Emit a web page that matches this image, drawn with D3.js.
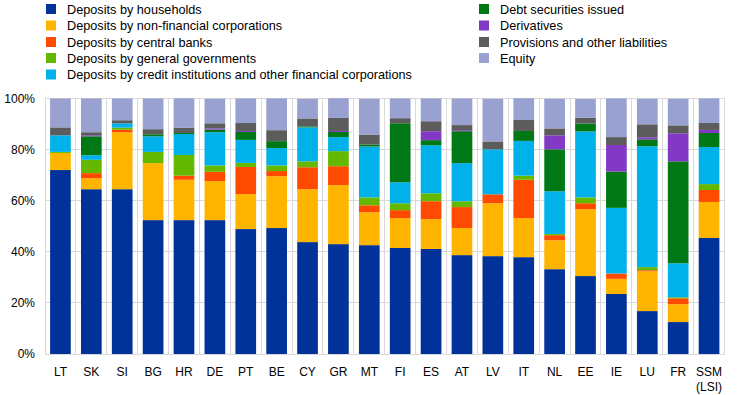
<!DOCTYPE html>
<html><head><meta charset="utf-8">
<script src="https://cdn.jsdelivr.net/npm/d3@7"></script>
<style>body{margin:0;background:#fff;}svg text{font-family:"Liberation Sans",Arial,sans-serif;}</style>
</head><body>
<svg id="c" width="744" height="395"></svg>
<script>
const categories = ["LT","SK","SI","BG","HR","DE","PT","BE","CY","GR","MT","FI","ES","AT","LV","IT","NL","EE","IE","LU","FR","SSM\n(LSI)"];
const seriesNames = ["Deposits by households","Deposits by non-financial corporations","Deposits by central banks","Deposits by general governments","Deposits by credit institutions and other financial corporations","Debt securities issued","Derivatives","Provisions and other liabilities","Equity"];
const colors = ["#003299","#FFB400","#FF4B00","#65B800","#00B1EA","#007816","#8139C6","#5C5C5C","#98A1D0"];
const households = [72.0,64.5,64.5,52.4,52.4,52.4,48.9,49.3,43.8,43.0,42.6,41.5,41.1,38.7,38.3,37.9,33.2,30.5,23.5,16.8,12.5,45.4];
const nonFinCorp = [6.7,4.3,22.3,22.3,15.8,15.3,13.7,20.3,20.7,23.1,12.9,11.7,11.7,10.6,20.7,15.3,11.3,26.2,5.9,15.6,7.0,14.1];
const centralBanks = [0,2.0,1.0,0,1.6,3.6,10.6,2.0,8.6,7.4,2.7,3.1,7.0,8.2,3.5,15.0,2.0,2.3,2.1,0.4,2.3,4.7];
const generalGov = [0.4,5.2,0.8,4.4,8.1,2.5,1.6,2.2,2.3,5.9,3.1,2.7,3.1,2.3,0,1.6,0.5,2.3,0,1.2,0.4,2.3];
const creditInst = [6.5,1.8,1.7,6.1,8.2,13.0,9.0,6.8,13.3,5.5,19.9,8.2,18.8,14.9,17.6,13.6,16.7,25.8,25.7,47.3,13.3,14.5];
const debtSec = [0,7.4,0,0.8,0.4,1.0,3.1,2.7,0.4,2.0,0.8,23.1,2.0,12.5,0,3.9,16.4,3.1,14.2,2.7,39.9,5.5];
const derivatives = [0,0.4,0,0,0,0.5,0.4,0,0,0.4,0,0,3.5,0.4,0,0,5.5,0,10.4,0.8,11.0,1.2];
const provisions = [3.1,1.2,1.2,2.0,2.0,2.0,3.1,4.3,3.1,5.1,3.9,2.0,3.9,2.0,3.1,4.3,2.7,2.3,3.1,5.1,3.1,2.7];
const equity = [11.3,13.2,8.5,12.0,11.6,9.6,9.6,12.4,7.7,7.7,14.0,7.7,8.9,10.4,16.7,8.5,11.6,7.3,15.1,10.0,10.4,9.6];
const yTicks = [0,20,40,60,80,100];

const seriesValues = [households,nonFinCorp,centralBanks,generalGov,creditInst,debtSec,derivatives,provisions,equity];
const keys = seriesNames;
const table = categories.map((c,i)=>{const o={cat:c};keys.forEach((k,j)=>o[k]=seriesValues[j][i]);return o;});
const stacked = d3.stack().keys(keys)(table);

const svg = d3.select("#c");
const pL=45,pR=724.5,pT=98.5,pB=354;
const x = d3.scaleBand().domain(categories).range([pL,pR]).paddingInner(0.33).paddingOuter(0.165);
const xg = d3.scaleBand().domain(categories).range([pL,pR]).padding(0);
const y = d3.scaleLinear().domain([0,100]).range([pB,pT]);

const grid = svg.append("g").attr("stroke","#d9d9d9").attr("stroke-width",1).attr("shape-rendering","crispEdges");
yTicks.forEach(t=>grid.append("line").attr("x1",pL).attr("x2",pR).attr("y1",y(t)).attr("y2",y(t)));
categories.forEach(c=>grid.append("line").attr("x1",xg(c)).attr("x2",xg(c)).attr("y1",pT).attr("y2",pB));
grid.append("line").attr("x1",pR).attr("x2",pR).attr("y1",pT).attr("y2",pB);

svg.append("g").selectAll("g").data(stacked).join("g").attr("fill",(d,i)=>colors[i])
  .selectAll("rect").data(d=>d).join("rect")
  .attr("x",d=>x(d.data.cat)).attr("width",x.bandwidth())
  .attr("y",d=>y(d[1])).attr("height",d=>Math.max(0,y(d[0])-y(d[1])));

const yAxis = svg.append("g").attr("transform",`translate(${pL},0)`)
  .call(d3.axisLeft(y).tickValues(yTicks).tickFormat(d=>d+"%").tickSize(0).tickPadding(10));
yAxis.select(".domain").remove();
yAxis.selectAll("text").attr("font-size",12).attr("fill","#000").attr("font-family","Liberation Sans, Arial, sans-serif");

const xAxis = svg.append("g").attr("transform",`translate(0,${pB})`)
  .call(d3.axisBottom(x).tickSize(0).tickPadding(11).tickFormat(""));
xAxis.select(".domain").remove();
xAxis.selectAll(".tick").each(function(d){
  const lines=d.split("\n");
  const t=d3.select(this).append("text").attr("fill","#000").attr("font-size",12).attr("text-anchor","middle").attr("y",21.5);
  lines.forEach((l,i)=>t.append("tspan").attr("x",0).attr("dy",i?15:0).text(l));
});

const legendPos = [[46,9],[46,25.5],[46,42],[46,58],[46,74.5],[479,9],[479,25.5],[479,42],[479,58]];
const lg = svg.append("g");
seriesNames.forEach((n,i)=>{
  const [lx,ly]=legendPos[i];
  lg.append("rect").attr("x",lx).attr("y",ly-5).attr("width",10).attr("height",10).attr("fill",colors[i]);
  lg.append("text").attr("x",lx+21).attr("y",ly+4.6).attr("font-size",12.7).attr("fill","#000").text(n);
});
</script>
</body></html>
